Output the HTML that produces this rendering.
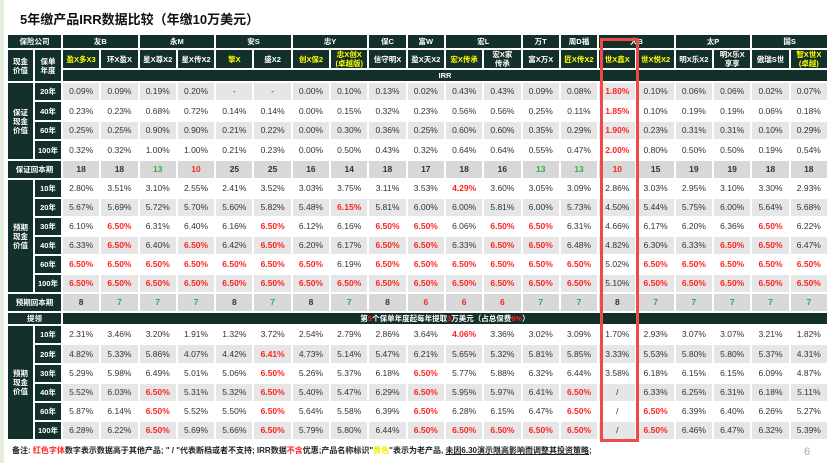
<!DOCTYPE html>
<html><head><meta charset="utf-8"><style>
body{margin:0;width:830px;height:463px;background:#fff;position:relative;overflow:hidden;font-family:"Liberation Sans","Noto Sans CJK SC",sans-serif;}
.strip{position:absolute;left:0;top:0;width:4px;height:463px;background:#e4eedc;}
.title{position:absolute;left:20px;top:9px;font-size:13px;font-weight:bold;color:#111;}
table{position:absolute;left:6px;top:33px;width:823px;border-collapse:collapse;table-layout:fixed;}
td{border:2px solid #fff;padding:0;text-align:center;font-size:8.5px;color:#333;overflow:hidden;white-space:nowrap;line-height:9px;}
.h{background:#14302a;color:#fff;font-weight:bold;font-size:7.5px;}
.y{color:#ffff00;}
.gy td.d{background:#e6e6e6;}
.hb td.d{background:#d8d8d8;font-weight:bold;}
.r{color:#f22!important;font-weight:bold;}
.g{color:#2fae4a!important;font-weight:bold;}
.box{position:absolute;left:600px;top:38px;width:33px;height:398px;border:3px solid #ee4a4a;}
.foot{position:absolute;left:12px;top:445px;font-size:8px;color:#222;font-weight:bold;}
.pg{position:absolute;left:804px;top:446px;font-size:11px;color:#aaa;}
</style></head><body>
<div class="strip"></div>
<div class="title">5年缴产品IRR数据比较（年缴10万美元）</div>
<table>
<colgroup><col style="width:27px"><col style="width:28px">
<col><col><col><col><col><col><col><col><col><col><col><col><col><col><col><col><col><col><col><col></colgroup>
<tr style="height:15px"><td class="h" colspan="2">保险公司</td><td class="h" colspan="2">友B</td><td class="h" colspan="2">永M</td><td class="h" colspan="2">安S</td><td class="h" colspan="2">忠Y</td><td class="h">保C</td><td class="h">富W</td><td class="h" colspan="2">宏L</td><td class="h">万T</td><td class="h">周D福</td><td class="h" colspan="2">大B</td><td class="h" colspan="2">太P</td><td class="h" colspan="2">国S</td></tr>
<tr style="height:19px"><td class="h" rowspan="2">现金<br>价值</td><td class="h" rowspan="2">保单<br>年度</td><td class="h y">盈X多X3</td><td class="h">环X盈X</td><td class="h">星X尊X2</td><td class="h">星X传X2</td><td class="h y">擎X</td><td class="h">盛X2</td><td class="h y">创X保2</td><td class="h y">忠X创X<br>(卓越版)</td><td class="h">信守明X</td><td class="h">盈X天X2</td><td class="h y">宏X传承</td><td class="h">宏X家<br>传承</td><td class="h">富X万X</td><td class="h y">匠X传X2</td><td class="h y">世X鑫X</td><td class="h y">世X悦X2</td><td class="h">明X乐X2</td><td class="h">明X乐X<br>享享</td><td class="h">傲瑞S世</td><td class="h y">智X世X<br>(卓越)</td></tr>
<tr style="height:13px"><td class="h" colspan="20">IRR</td></tr>
<tr class="gy" style="height:19px"><td class="h" rowspan="4">保证<br>现金<br>价值</td><td class="h">20年</td><td class="d">0.09%</td><td class="d">0.09%</td><td class="d">0.19%</td><td class="d">0.20%</td><td class="d">-</td><td class="d">-</td><td class="d">0.00%</td><td class="d">0.10%</td><td class="d">0.13%</td><td class="d">0.02%</td><td class="d">0.43%</td><td class="d">0.43%</td><td class="d">0.09%</td><td class="d">0.08%</td><td class="d r">1.80%</td><td class="d">0.10%</td><td class="d">0.06%</td><td class="d">0.06%</td><td class="d">0.02%</td><td class="d">0.07%</td></tr>
<tr style="height:20px"><td class="h">40年</td><td class="d">0.23%</td><td class="d">0.23%</td><td class="d">0.68%</td><td class="d">0.72%</td><td class="d">0.14%</td><td class="d">0.14%</td><td class="d">0.00%</td><td class="d">0.15%</td><td class="d">0.32%</td><td class="d">0.23%</td><td class="d">0.56%</td><td class="d">0.56%</td><td class="d">0.25%</td><td class="d">0.11%</td><td class="d r">1.85%</td><td class="d">0.10%</td><td class="d">0.19%</td><td class="d">0.19%</td><td class="d">0.06%</td><td class="d">0.18%</td></tr>
<tr class="gy" style="height:19px"><td class="h">60年</td><td class="d">0.25%</td><td class="d">0.25%</td><td class="d">0.90%</td><td class="d">0.90%</td><td class="d">0.21%</td><td class="d">0.22%</td><td class="d">0.00%</td><td class="d">0.30%</td><td class="d">0.36%</td><td class="d">0.25%</td><td class="d">0.60%</td><td class="d">0.60%</td><td class="d">0.35%</td><td class="d">0.29%</td><td class="d r">1.90%</td><td class="d">0.23%</td><td class="d">0.31%</td><td class="d">0.31%</td><td class="d">0.10%</td><td class="d">0.29%</td></tr>
<tr style="height:20px"><td class="h">100年</td><td class="d">0.32%</td><td class="d">0.32%</td><td class="d">1.00%</td><td class="d">1.00%</td><td class="d">0.21%</td><td class="d">0.23%</td><td class="d">0.00%</td><td class="d">0.50%</td><td class="d">0.43%</td><td class="d">0.32%</td><td class="d">0.64%</td><td class="d">0.64%</td><td class="d">0.55%</td><td class="d">0.47%</td><td class="d r">2.00%</td><td class="d">0.80%</td><td class="d">0.50%</td><td class="d">0.50%</td><td class="d">0.19%</td><td class="d">0.54%</td></tr>
<tr class="hb" style="height:19px"><td class="h" colspan="2">保证回本期</td><td class="d">18</td><td class="d">18</td><td class="d g">13</td><td class="d r">10</td><td class="d">25</td><td class="d">25</td><td class="d">16</td><td class="d">14</td><td class="d">18</td><td class="d">17</td><td class="d">18</td><td class="d">16</td><td class="d g">13</td><td class="d g">13</td><td class="d r">10</td><td class="d">15</td><td class="d">19</td><td class="d">19</td><td class="d">18</td><td class="d">18</td></tr>
<tr style="height:19px"><td class="h" rowspan="6">预期<br>现金<br>价值</td><td class="h">10年</td><td class="d">2.80%</td><td class="d">3.51%</td><td class="d">3.10%</td><td class="d">2.55%</td><td class="d">2.41%</td><td class="d">3.52%</td><td class="d">3.03%</td><td class="d">3.75%</td><td class="d">3.11%</td><td class="d">3.53%</td><td class="d r">4.29%</td><td class="d">3.60%</td><td class="d">3.05%</td><td class="d">3.09%</td><td class="d">2.86%</td><td class="d">3.03%</td><td class="d">2.95%</td><td class="d">3.10%</td><td class="d">3.30%</td><td class="d">2.93%</td></tr>
<tr class="gy" style="height:19px"><td class="h">20年</td><td class="d">5.67%</td><td class="d">5.69%</td><td class="d">5.72%</td><td class="d">5.70%</td><td class="d">5.60%</td><td class="d">5.82%</td><td class="d">5.48%</td><td class="d r">6.15%</td><td class="d">5.81%</td><td class="d">6.00%</td><td class="d">6.00%</td><td class="d">5.81%</td><td class="d">6.00%</td><td class="d">5.73%</td><td class="d">4.50%</td><td class="d">5.44%</td><td class="d">5.75%</td><td class="d">6.00%</td><td class="d">5.64%</td><td class="d">5.68%</td></tr>
<tr style="height:19px"><td class="h">30年</td><td class="d">6.10%</td><td class="d r">6.50%</td><td class="d">6.31%</td><td class="d">6.40%</td><td class="d">6.16%</td><td class="d r">6.50%</td><td class="d">6.12%</td><td class="d">6.16%</td><td class="d r">6.50%</td><td class="d r">6.50%</td><td class="d">6.06%</td><td class="d r">6.50%</td><td class="d r">6.50%</td><td class="d">6.31%</td><td class="d">4.66%</td><td class="d">6.17%</td><td class="d">6.20%</td><td class="d">6.36%</td><td class="d r">6.50%</td><td class="d">6.22%</td></tr>
<tr class="gy" style="height:19px"><td class="h">40年</td><td class="d">6.33%</td><td class="d r">6.50%</td><td class="d">6.40%</td><td class="d r">6.50%</td><td class="d">6.42%</td><td class="d r">6.50%</td><td class="d">6.20%</td><td class="d">6.17%</td><td class="d r">6.50%</td><td class="d r">6.50%</td><td class="d">6.33%</td><td class="d r">6.50%</td><td class="d r">6.50%</td><td class="d">6.48%</td><td class="d">4.82%</td><td class="d">6.30%</td><td class="d">6.33%</td><td class="d r">6.50%</td><td class="d r">6.50%</td><td class="d">6.47%</td></tr>
<tr style="height:19px"><td class="h">60年</td><td class="d r">6.50%</td><td class="d r">6.50%</td><td class="d r">6.50%</td><td class="d r">6.50%</td><td class="d r">6.50%</td><td class="d r">6.50%</td><td class="d r">6.50%</td><td class="d">6.19%</td><td class="d r">6.50%</td><td class="d r">6.50%</td><td class="d r">6.50%</td><td class="d r">6.50%</td><td class="d r">6.50%</td><td class="d r">6.50%</td><td class="d">5.02%</td><td class="d r">6.50%</td><td class="d r">6.50%</td><td class="d r">6.50%</td><td class="d r">6.50%</td><td class="d r">6.50%</td></tr>
<tr class="gy" style="height:19px"><td class="h">100年</td><td class="d r">6.50%</td><td class="d r">6.50%</td><td class="d r">6.50%</td><td class="d r">6.50%</td><td class="d r">6.50%</td><td class="d r">6.50%</td><td class="d r">6.50%</td><td class="d r">6.50%</td><td class="d r">6.50%</td><td class="d r">6.50%</td><td class="d r">6.50%</td><td class="d r">6.50%</td><td class="d r">6.50%</td><td class="d r">6.50%</td><td class="d">5.10%</td><td class="d r">6.50%</td><td class="d r">6.50%</td><td class="d r">6.50%</td><td class="d r">6.50%</td><td class="d r">6.50%</td></tr>
<tr class="hb" style="height:19px"><td class="h" colspan="2">预期回本期</td><td class="d">8</td><td class="d g">7</td><td class="d g">7</td><td class="d g">7</td><td class="d">8</td><td class="d g">7</td><td class="d">8</td><td class="d g">7</td><td class="d">8</td><td class="d r">6</td><td class="d r">6</td><td class="d r">6</td><td class="d g">7</td><td class="d g">7</td><td class="d">8</td><td class="d g">7</td><td class="d g">7</td><td class="d g">7</td><td class="d g">7</td><td class="d g">7</td></tr>
<tr style="height:13px"><td class="h" colspan="2">提领</td><td class="h" colspan="20">第<span style="color:#f22">5</span>个保单年度起每年提取<span style="color:#f22">3</span>万美元（占总保费<span style="color:#f22">6%</span>）</td></tr>
<tr style="height:19px"><td class="h" rowspan="6">预期<br>现金<br>价值</td><td class="h">10年</td><td class="d">2.31%</td><td class="d">3.46%</td><td class="d">3.20%</td><td class="d">1.91%</td><td class="d">1.32%</td><td class="d">3.72%</td><td class="d">2.54%</td><td class="d">2.79%</td><td class="d">2.86%</td><td class="d">3.64%</td><td class="d r">4.06%</td><td class="d">3.36%</td><td class="d">3.02%</td><td class="d">3.09%</td><td class="d">1.70%</td><td class="d">2.93%</td><td class="d">3.07%</td><td class="d">3.07%</td><td class="d">3.21%</td><td class="d">1.82%</td></tr>
<tr class="gy" style="height:20px"><td class="h">20年</td><td class="d">4.82%</td><td class="d">5.33%</td><td class="d">5.86%</td><td class="d">4.07%</td><td class="d">4.42%</td><td class="d r">6.41%</td><td class="d">4.73%</td><td class="d">5.14%</td><td class="d">5.47%</td><td class="d">6.21%</td><td class="d">5.65%</td><td class="d">5.32%</td><td class="d">5.81%</td><td class="d">5.85%</td><td class="d">3.33%</td><td class="d">5.53%</td><td class="d">5.80%</td><td class="d">5.80%</td><td class="d">5.37%</td><td class="d">4.31%</td></tr>
<tr style="height:19px"><td class="h">30年</td><td class="d">5.29%</td><td class="d">5.98%</td><td class="d">6.49%</td><td class="d">5.01%</td><td class="d">5.06%</td><td class="d r">6.50%</td><td class="d">5.26%</td><td class="d">5.37%</td><td class="d">6.18%</td><td class="d r">6.50%</td><td class="d">5.77%</td><td class="d">5.88%</td><td class="d">6.32%</td><td class="d">6.44%</td><td class="d">3.58%</td><td class="d">6.18%</td><td class="d">6.15%</td><td class="d">6.15%</td><td class="d">6.09%</td><td class="d">4.87%</td></tr>
<tr class="gy" style="height:19px"><td class="h">40年</td><td class="d">5.52%</td><td class="d">6.03%</td><td class="d r">6.50%</td><td class="d">5.31%</td><td class="d">5.32%</td><td class="d r">6.50%</td><td class="d">5.40%</td><td class="d">5.47%</td><td class="d">6.29%</td><td class="d r">6.50%</td><td class="d">5.95%</td><td class="d">5.97%</td><td class="d">6.41%</td><td class="d r">6.50%</td><td class="d">/</td><td class="d">6.33%</td><td class="d">6.25%</td><td class="d">6.31%</td><td class="d">6.18%</td><td class="d">5.11%</td></tr>
<tr style="height:19px"><td class="h">60年</td><td class="d">5.87%</td><td class="d">6.14%</td><td class="d r">6.50%</td><td class="d">5.52%</td><td class="d">5.50%</td><td class="d r">6.50%</td><td class="d">5.64%</td><td class="d">5.58%</td><td class="d">6.39%</td><td class="d r">6.50%</td><td class="d">6.28%</td><td class="d">6.15%</td><td class="d">6.47%</td><td class="d r">6.50%</td><td class="d">/</td><td class="d r">6.50%</td><td class="d">6.39%</td><td class="d">6.40%</td><td class="d">6.26%</td><td class="d">5.27%</td></tr>
<tr class="gy" style="height:19px"><td class="h">100年</td><td class="d">6.28%</td><td class="d">6.22%</td><td class="d r">6.50%</td><td class="d">5.69%</td><td class="d">5.66%</td><td class="d r">6.50%</td><td class="d">5.79%</td><td class="d">5.80%</td><td class="d">6.44%</td><td class="d r">6.50%</td><td class="d r">6.50%</td><td class="d r">6.50%</td><td class="d r">6.50%</td><td class="d r">6.50%</td><td class="d">/</td><td class="d r">6.50%</td><td class="d">6.46%</td><td class="d">6.47%</td><td class="d">6.32%</td><td class="d">5.39%</td></tr>
</table>
<div class="box"></div>
<div class="foot">备注: <span style="color:#f22">红色字体</span>数字表示数据高于其他产品; " / "代表断档或者不支持; IRR数据<span style="color:#f22">不含</span>优惠;产品名称标识"<span style="color:#ee0">黄色</span>"表示为老产品, <u>未因6.30演示限高影响而调整其投资策略</u>;</div>
<div class="pg">6</div>
</body></html>
